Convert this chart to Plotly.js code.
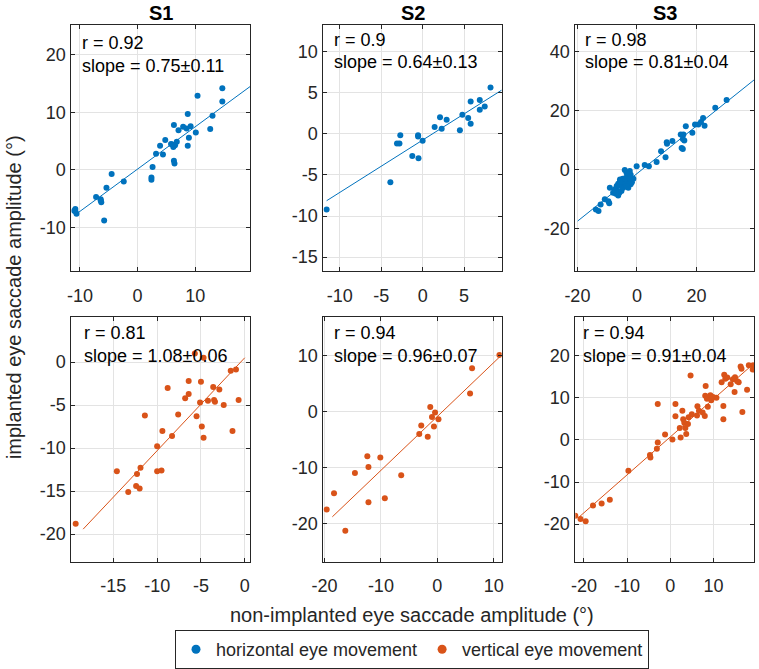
<!DOCTYPE html>
<html>
<head>
<meta charset="utf-8">
<script src="https://cdn.plot.ly/plotly-3.0.1.min.js"></script>
<style>html,body{margin:0;padding:0;background:#fff;}#chart{width:759px;height:669px;}</style>
</head>
<body>
<div id="chart"></div>
<script>
// ---------- DATA ----------
const subjects = ['S1', 'S2', 'S3'];
const seriesNames = ['horizontal eye movement', 'vertical eye movement'];

// S1 horizontal
const s1hX = [14.7, 10.4, 14.7, 13.0, 8.7, 6.3, 7.9, 8.5, 9.2, 7.1, 12.6, 10.1, 8.9, 6.8, 4.8, 3.9, 5.8, 6.2, 6.5, 6.0, 8.7, 3.2, 4.4, 6.3, 6.4, 2.6, 2.4, 2.4, -4.5, -2.4, -5.4, -7.2, -6.4, -6.3, -6.4, -5.8, -10.8, -10.8, -10.6, -11.0];
const s1hY = [14.2, 12.9, 11.9, 9.4, 9.7, 7.8, 7.5, 7.2, 7.6, 6.9, 7.1, 6.5, 5.6, 4.9, 5.2, 4.2, 4.5, 4.0, 4.3, 4.4, 4.2, 2.8, 2.7, 1.6, 1.1, 0.5, -1.3, -1.7, -0.7, -2.0, -3.1, -4.7, -5.1, -5.6, -5.3, -8.8, -6.8, -7.2, -7.6, -7.1];
// S2 horizontal
const s2hX = [8.2, 5.8, 6.9, 7.5, 6.9, 4.8, 5.5, 5.8, 4.5, 2.1, 2.9, 1.45, 2.3, 0.0, -0.55, -0.55, -2.7, -3.1, -2.8, -1.25, -0.5, -3.9, -11.6];
const s2hY = [5.6, 3.9, 4.1, 3.3, 2.9, 2.3, 1.9, 1.2, 0.4, 2.0, 1.7, 0.8, 0.6, -0.85, -0.2, -0.35, -0.2, -1.2, -1.2, -2.7, -3.0, -5.9, -9.2];
// S3 horizontal
const s3hX = [30.1, 26.3, 22.2, 21.5, 22.7, 20.6, 19.5, 18.6, 16.4, 15.6, 14.7, 15.4, 15.9, 15.0, 15.4, 11.9, 10.0, 10.1, 9.6, 8.1, 6.6, 4.0, 2.6, -0.1, -4.1, -9.1, -9.6, -9.3, -10.8, -12.2, -13.8, -12.9,
  -5.7, -4.8, -3.7, -2.9, -2.1, -2.6, -1.7, -2.1, -3.2, -4.0, -4.6, -5.4, -6.3, -6.8, -7.4, -6.6, -5.9, -5.2, -4.6, -3.5, -2.9, -6.3, -7.1, -8.0, -5.7, -1.2, -2.4, -3.5];
const s3hY = [23.6, 21.0, 17.5, 16.2, 14.9, 15.3, 15.3, 12.5, 14.7, 11.9, 11.9, 10.4, 9.9, 7.4, 7.0, 9.7, 9.3, 8.8, 4.2, 6.3, 2.6, 1.2, 1.6, 1.2, -0.1, -6.1, -10.6, -11.3, -10.0, -11.7, -13.4, -13.9,
  -3.3, -3.0, -2.7, -2.1, -1.7, -3.3, -4.2, -4.9, -4.4, -3.8, -4.9, -5.5, -4.7, -5.5, -6.6, -7.2, -7.8, -7.2, -6.1, -5.5, -6.1, -8.7, -8.1, -7.8, -4.0, -3.0, -0.4, -1.0];
// S1 vertical
const s1vX = [-19.3, -14.6, -13.3, -12.3, -12.4, -12.0, -11.9, -11.4, -10.0, -10.0, -9.5, -9.4, -8.8, -8.3, -7.6, -6.8, -6.4, -6.4, -5.7, -4.7, -5.0, -5.1, -5.5, -4.9, -4.7, -4.2, -3.6, -3.5, -3.4, -2.9, -2.4, -1.6, -1.0, -1.4, -0.7];
const s1vY = [-18.8, -12.7, -15.1, -13.0, -14.4, -14.7, -12.3, -6.2, -9.8, -12.7, -12.6, -8.0, -3.0, -8.6, -6.1, -4.2, -3.7, -2.2, 1.0, 0.5, -2.3, -4.7, -6.3, -7.5, -8.8, -4.5, -2.9, -4.4, -4.6, -3.2, -5.0, -1.0, -0.85, -8.0, -4.4];
// S2 vertical
const s2vX = [11.0, 6.15, 5.8, -1.25, -0.95, -0.4, 0.2, -0.6, -2.85, -3.2, -1.7, -12.4, -10.1, -12.2, -14.6, -6.4, -18.3, -9.3, -12.2, -19.6, -16.3];
const s2vY = [10.1, 7.7, 3.2, 0.8, -1.0, -0.2, -1.4, -2.7, -2.5, -4.0, -4.5, -8.0, -8.2, -9.9, -11.0, -11.4, -14.6, -15.5, -16.2, -17.5, -21.3];
// S3 vertical
const s3vX = [-22.0, -20.8, -19.6, -17.9, -15.9, -14.0, -9.7, -4.7, -4.6, -3.1, -2.9, -2.9, -1.2, 0.5, 1.2, 1.2, 2.4, 2.2, 2.8, 3.0, 3.25, 3.5, 3.7, 4.1, 4.25, 5.0, 4.7, 6.2, 6.3, 6.65, 7.5, 8.0, 8.1, 8.2, 8.5, 8.7, 9.3, 9.5, 9.9, 10.7, 11.9, 12.3, 12.3, 12.5, 12.75, 13.2, 14.0, 14.5, 14.9, 15.0, 15.5, 15.85, 16.3, 16.5, 16.7, 17.8, 18.2, 19.2, 19.1];
const s3vY = [-18.0, -18.8, -19.3, -15.6, -15.1, -14.2, -7.3, -3.6, -4.2, -2.1, -0.6, 8.5, 1.3, 0.1, 8.5, 5.6, 0.55, 2.8, 6.9, 4.9, 4.1, 2.8, 1.4, 3.8, 5.4, 6.1, 15.3, 5.8, 8.0, 6.9, 6.5, 5.7, 10.5, 12.8, 9.8, 7.9, 10.6, 9.4, 10.2, 10.0, 13.7, 8.05, 4.9, 15.5, 14.5, 14.8, 13.2, 14.4, 11.4, 14.9, 13.9, 13.7, 17.4, 16.9, 6.6, 11.9, 17.7, 17.7, 16.7];

// regression summaries
const rValues = ['0.92', '0.9', '0.98', '0.81', '0.94', '0.94'];
const slopeLabels = ['0.75±0.11', '0.64±0.13', '0.81±0.04', '1.08±0.06', '0.96±0.07', '0.91±0.04'];
const fitSlopes = [0.735, 0.635, 0.806, 1.08, 0.963, 0.9];
const fitIntercepts = [0.15, -0.78, -1.3, 0.5, -0.89, 0.7];
const fitXStart = [-10.8, -11.6, -19.9, -18.45, -18.6, -21.35];
const fitXEnd = [19.5, 9.55, 39.3, 0.0, 11.1, 19.4];

// axis ranges and ticks
const xRanges = [[-11.5, 19.5], [-12, 9.55], [-20.7, 39.3], [-19.8, 0.6], [-20.2, 11.4], [-22, 19.4]];
const yRanges = [[-17.6, 25.2], [-16.7, 13.2], [-34.3, 49], [-23.2, 5.2], [-26.8, 16.8], [-28.9, 29.1]];
const xTicks = [[-10, 0, 10], [-10, -5, 0, 5], [-20, 0, 20], [-15, -10, -5, 0], [-20, -10, 0, 10], [-20, -10, 0, 10]];
const yTicks = [[-10, 0, 10, 20], [-15, -10, -5, 0, 5, 10], [-20, 0, 20, 40], [-20, -15, -10, -5, 0], [-20, -10, 0, 10], [-20, -10, 0, 10, 20]];

// ---------- LAYOUT GEOMETRY (pixels) ----------
const W = 759, H = 669;
const colPx = [[71.3, 250], [323.3, 501.7], [575.3, 754]];
const rowPx = [[25, 272], [318.3, 563.3]];
const textXPx = [80, 331.7, 583.3, 81.7, 332.3, 580.7];
const rTextYPx = [43, 40, 40, 333.5, 333.5, 333.5];
const sTextYPx = [66, 62.5, 62.5, 357, 357, 357];

const colors = ['#0072BD', '#D95319'];
const FONT = 'Liberation Sans, Arial, Helvetica, sans-serif';
const TXT = '#262626';

const xs = [s1hX, s2hX, s3hX, s1vX, s2vX, s3vX];
const ys = [s1hY, s2hY, s3hY, s1vY, s2vY, s3vY];

const px2x = p => p / W;
const px2y = p => 1 - p / H;
const tickText = arr => arr.map(v => String(v));

const traces = [];
const layout = {
  width: W, height: H,
  margin: {l: 0, r: 0, t: 0, b: 0},
  paper_bgcolor: '#fff', plot_bgcolor: '#fff',
  showlegend: true,
  font: {family: FONT, color: TXT},
  annotations: [],
  legend: {
    orientation: 'h', x: 412 / W, xanchor: 'center', y: px2y(651.5), yanchor: 'middle',
    bordercolor: '#262626', borderwidth: 1, bgcolor: '#fff',
    font: {family: FONT, size: 18, color: TXT}, itemclick: false
  }
};

for (let i = 0; i < 6; i++) {
  const row = Math.floor(i / 3), col = i % 3;
  const sfx = i === 0 ? '' : String(i + 1);
  const c = colors[row];
  traces.push({
    type: 'scatter', mode: 'markers', x: xs[i], y: ys[i],
    xaxis: 'x' + sfx, yaxis: 'y' + sfx,
    marker: {color: c, size: 6}, showlegend: false, hoverinfo: 'x+y'
  });
  const lx = [fitXStart[i], fitXEnd[i]];
  traces.push({
    type: 'scatter', mode: 'lines', x: lx, y: lx.map(v => fitSlopes[i] * v + fitIntercepts[i]),
    xaxis: 'x' + sfx, yaxis: 'y' + sfx,
    line: {color: c, width: 1}, showlegend: false, hoverinfo: 'skip'
  });
  const axBase = {
    showline: true, mirror: 'ticks', linecolor: '#262626', linewidth: 1,
    ticks: 'inside', ticklen: 4, tickcolor: '#262626', tickwidth: 1,
    showgrid: true, gridcolor: '#e3e3e3', gridwidth: 1, zeroline: false,
    tickfont: {family: FONT, size: 18, color: TXT}, fixedrange: true, tickmode: 'array'
  };
  layout['xaxis' + sfx] = Object.assign({}, axBase, {
    domain: [px2x(colPx[col][0]), px2x(colPx[col][1])],
    range: xRanges[i], tickvals: xTicks[i], ticktext: tickText(xTicks[i]),
    anchor: 'y' + sfx, ticklabelstandoff: 8
  });
  layout['yaxis' + sfx] = Object.assign({}, axBase, {
    domain: [px2y(rowPx[row][1]), px2y(rowPx[row][0])],
    range: yRanges[i], tickvals: yTicks[i], ticktext: tickText(yTicks[i]),
    anchor: 'x' + sfx, ticklabelstandoff: 1
  });
  layout.annotations.push({
    xref: 'paper', yref: 'paper', x: px2x(textXPx[i]), y: px2y(rTextYPx[i]),
    xanchor: 'left', yanchor: 'middle', showarrow: false,
    text: 'r = ' + rValues[i], font: {family: FONT, size: 18, color: '#000'}
  });
  layout.annotations.push({
    xref: 'paper', yref: 'paper', x: px2x(textXPx[i]), y: px2y(sTextYPx[i]),
    xanchor: 'left', yanchor: 'middle', showarrow: false,
    text: 'slope = ' + slopeLabels[i], font: {family: FONT, size: 18, color: '#000'}
  });
}

// column titles
subjects.forEach((s, k) => {
  layout.annotations.push({
    xref: 'paper', yref: 'paper', x: px2x((colPx[k][0] + colPx[k][1]) / 2), y: px2y(13),
    xanchor: 'center', yanchor: 'middle', showarrow: false,
    text: '<b>' + s + '</b>', font: {family: FONT, size: 20, color: '#000'}
  });
});
// axis titles
layout.annotations.push({
  xref: 'paper', yref: 'paper', x: px2x(412), y: px2y(617),
  xanchor: 'center', yanchor: 'middle', showarrow: false,
  text: 'non-implanted eye saccade amplitude (°)', font: {family: FONT, size: 20, color: TXT}
});
layout.annotations.push({
  xref: 'paper', yref: 'paper', x: px2x(14), y: px2y(298),
  xanchor: 'center', yanchor: 'middle', showarrow: false, textangle: -90,
  text: 'implanted eye saccade amplitude (°)', font: {family: FONT, size: 20, color: TXT}
});

// legend entries
seriesNames.forEach((n, k) => {
  traces.push({
    type: 'scatter', mode: 'markers', x: [null], y: [null], xaxis: 'x', yaxis: 'y',
    name: n, marker: {color: colors[k], size: 9}, showlegend: true, hoverinfo: 'skip'
  });
});

Plotly.newPlot('chart', traces, layout, {displayModeBar: false, staticPlot: true});
</script>
</body>
</html>
